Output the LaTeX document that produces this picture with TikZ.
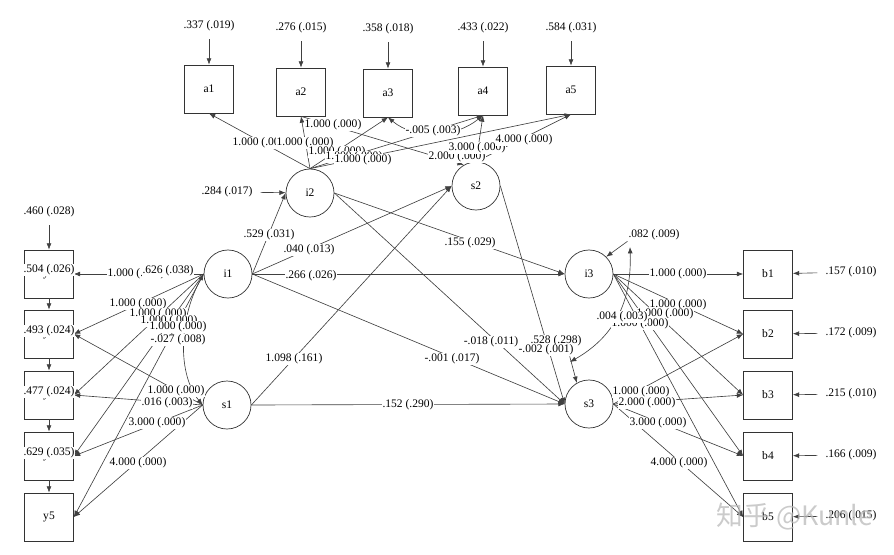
\documentclass[tikz,border=0pt]{standalone}
\usepackage{fontspec}
\setmainfont{Liberation Serif}
\newfontfamily\cjk{Noto Sans CJK SC}
\usetikzlibrary{arrows.meta}

\begin{document}
\begin{tikzpicture}[x=0.025cm, y=-0.025cm, >={Latex[length=4.5pt,width=3.5pt]},
  obs/.style={draw=black!80, line width=0.5pt, minimum width=1.225cm, minimum height=1.2cm, font=\fontsize{8.2}{9}\selectfont},
  lat/.style={draw=black!80, line width=0.5pt, circle, minimum size=1.2cm, inner sep=0pt, font=\fontsize{8.2}{9}\selectfont},
  lbl/.style={fill=white, inner sep=0.6pt, font=\fontsize{8.2}{9}\selectfont},
  conn/.style={->, draw=black!75, line width=0.45pt},
  cov/.style={<->, draw=black!75, line width=0.45pt},
  resarr/.style={->, draw=black!75, line width=0.45pt, shorten <=5pt}]
  \useasboundingbox (0,0) rectangle (894,554);

  % Indicadores
  \node[obs] (a1) at (209,89) {a1};
  \node[obs] (a2) at (301,92) {a2};
  \node[obs] (a3) at (388,93) {a3};
  \node[obs] (a4) at (483,91) {a4};
  \node[obs] (a5) at (571,90) {a5};
  \node[obs] (y1) at (49,274) {y1};
  \node[obs] (y2) at (49,334) {y2};
  \node[obs] (y3) at (49,395) {y3};
  \node[obs] (y4) at (49,456) {y4};
  \node[obs] (y5) at (49,517) {y5};
  \node[obs] (b1) at (768,274) {b1};
  \node[obs] (b2) at (768,334) {b2};
  \node[obs] (b3) at (768,395) {b3};
  \node[obs] (b4) at (768,456) {b4};
  \node[obs] (b5) at (768,517) {b5};

  % Fatores
  \node[lat] (i2) at (310,193) {i2};
  \node[lat] (s2) at (476,186) {s2};
  \node[lat] (i1) at (228,274) {i1};
  \node[lat] (s1) at (227,405) {s1};
  \node[lat] (i3) at (589,274) {i3};
  \node[lat] (s3) at (589,404) {s3};

  % Cargas de i2 e s2
  \draw[conn] (i2.north) -- (a1.south);
  \draw[conn] (i2.north) -- (a2.south);
  \draw[conn] (i2.north) -- (a3.south);
  \draw[conn] (i2.north) -- (a4.south);
  \draw[conn] (i2.north) -- (a5.south);
  \draw[conn] (a2.south) -- (s2.120);
  \draw[conn] (s2.north) -- (a4.south);
  \draw[conn] (s2.north) -- (a5.south);
  \draw[cov] (a3.south) .. controls (415,140) and (455,138) .. (a4.south);

  % Regressões
  \draw[conn] (i1.east) -- (i2.west);
  \draw[conn] (i1.east) -- (s2.west);
  \draw[conn] (i1.east) -- (i3.west);
  \draw[conn] (i1.east) -- (s3.west);
  \draw[conn] (s1.east) -- (s2.west);
  \draw[conn] (s1.east) -- (s3.west);
  \draw[conn] (i2.east) -- (i3.west);
  \draw[conn] (i2.east) -- (s3.west);
  \draw[conn] (s2.east) -- (s3.west);

  % Cargas de i1 e s1
  \draw[conn] (i1.west) -- (y1.east);
  \draw[conn] (i1.west) -- (y2.east);
  \draw[conn] (i1.west) -- (y3.east);
  \draw[conn] (i1.west) -- (y4.east);
  \draw[conn] (i1.west) -- (y5.east);
  \draw[conn] (s1.west) -- (y2.east);
  \draw[conn] (s1.west) -- (y3.east);
  \draw[conn] (s1.west) -- (y4.east);
  \draw[conn] (s1.west) -- (y5.east);
  \draw[cov] (i1.west) .. controls (178,320) and (178,375) .. (s1.west);
  \draw[conn] (y1) -- (y2);
  \draw[conn] (y2) -- (y3);
  \draw[conn] (y3) -- (y4);
  \draw[conn] (y4) -- (y5);

  % Cargas de i3 e s3
  \draw[conn] (i3.east) -- (b1.west);
  \draw[conn] (i3.east) -- (b2.west);
  \draw[conn] (i3.east) -- (b3.west);
  \draw[conn] (i3.east) -- (b4.west);
  \draw[conn] (i3.east) -- (b5.west);
  \draw[conn] (s3.east) -- (b2.west);
  \draw[conn] (s3.east) -- (b3.west);
  \draw[conn] (s3.east) -- (b4.west);
  \draw[conn] (s3.east) -- (b5.west);
  \coordinate (e3) at (630,247);
  \coordinate (e4) at (570,362);
  \draw[cov] (e3) .. controls (632,305) and (612,338) .. (e4);

  % Resíduos
  \node[lbl] (ra1) at (209,26) {.337 (.019)};
  \node[lbl] (ra2) at (301,28) {.276 (.015)};
  \node[lbl] (ra3) at (388,29) {.358 (.018)};
  \node[lbl] (ra4) at (483,28) {.433 (.022)};
  \node[lbl] (ra5) at (571,28) {.584 (.031)};
  \draw[resarr] (ra1) -- (a1);
  \draw[resarr] (ra2) -- (a2);
  \draw[resarr] (ra3) -- (a3);
  \draw[resarr] (ra4) -- (a4);
  \draw[resarr] (ra5) -- (a5);
  \node[lbl] (ry0) at (49,212) {.460 (.028)};
  \draw[resarr] (ry0) -- (y1);
  \node[lbl] (rb1) at (851,272) {.157 (.010)};
  \node[lbl] (rb2) at (851,333) {.172 (.009)};
  \node[lbl] (rb3) at (851,394) {.215 (.010)};
  \node[lbl] (rb4) at (851,455) {.166 (.009)};
  \node[lbl] (rb5) at (851,516) {.206 (.015)};
  \draw[resarr] (rb1) -- (b1);
  \draw[resarr] (rb2) -- (b2);
  \draw[resarr] (rb3) -- (b3);
  \draw[resarr] (rb4) -- (b4);
  \draw[resarr] (rb5) -- (b5);
  \node[lbl] (ri2) at (227,192) {.284 (.017)};
  \draw[resarr] (ri2) -- (i2);
  \node[lbl] (ri3) at (654,235) {.082 (.009)};
  \draw[resarr, shorten <=0pt] (ri3.south west) -- (i3.north east);

  % Rótulos, lado esquerdo
  \node[lbl] (ly1) at (49,270) {.504 (.026)};
  \node[lbl] (ly2) at (49,331) {.493 (.024)};
  \node[lbl] (ly3) at (49,392) {.477 (.024)};
  \node[lbl] (ly4) at (49,453) {.629 (.035)};
  \node[lbl] (l1) at (136,274) {1.000 (.000)};
  \node[lbl] (ri1) at (168,271) {.626 (.038)};
  \node[lbl] (l2) at (138,304) {1.000 (.000)};
  \node[lbl] (l3) at (158,314) {1.000 (.000)};
  \node[lbl] (l4) at (169,321) {1.000 (.000)};
  \node[lbl] (l5) at (178,327) {1.000 (.000)};
  \node[lbl] (l6) at (178,340) {-.027 (.008)};
  \node[lbl] (l7) at (176,391) {1.000 (.000)};
  \node[lbl] (l8) at (167,403) {.016 (.003)};
  \node[lbl] (l9) at (157,423) {3.000 (.000)};
  \node[lbl] (l10) at (138,463) {4.000 (.000)};

  % Rótulos, topo
  \node[lbl] (t1) at (333,125) {1.000 (.000)};
  \node[lbl] (t2) at (261,143) {1.000 (.000)};
  \node[lbl] (t3) at (305,143) {1.000 (.000)};
  \node[lbl] (t4) at (337,152) {1.000 (.000)};
  \node[lbl] (t5) at (354,157) {1.000 (.000)};
  \node[lbl] (t6) at (363,160) {1.000 (.000)};
  \node[lbl] (t7) at (433,131) {-.005 (.003)};
  \node[lbl] (t8) at (457,157) {2.000 (.000)};
  \node[lbl] (t9) at (477,148) {3.000 (.000)};
  \node[lbl] (t10) at (524,140) {4.000 (.000)};

  % Rótulos, centro
  \node[lbl] (m1) at (269,235) {.529 (.031)};
  \node[lbl] (m2) at (309,250) {.040 (.013)};
  \node[lbl] (m3) at (311,276) {.266 (.026)};
  \node[lbl] (m4) at (294,359) {1.098 (.161)};
  \node[lbl] (m5) at (470,243) {.155 (.029)};
  \node[lbl] (m6) at (452,359) {-.001 (.017)};
  \node[lbl] (m7) at (408,405) {.152 (.290)};
  \node[lbl] (m8) at (491,342) {-.018 (.011)};
  \node[lbl] (m9) at (556,341) {.528 (.298)};
  \node[lbl] (rs3) at (546,350) {-.002 (.001)};
  \draw[resarr, shorten <=0pt] (rs3.-15) -- (s3.120);

  % Rótulos, lado direito
  \node[lbl] (r1) at (678,274) {1.000 (.000)};
  \node[lbl] (r2) at (678,305) {1.000 (.000)};
  \node[lbl] (r3) at (665,314) {1.000 (.000)};
  \node[lbl] (r4) at (640,324) {1.000 (.000)};
  \node[lbl] (r5) at (622,317) {.004 (.003)};
  \node[lbl] (r6) at (641,392) {1.000 (.000)};
  \node[lbl] (r7) at (647,403) {2.000 (.000)};
  \node[lbl] (r8) at (658,423) {3.000 (.000)};
  \node[lbl] (r9) at (679,463) {4.000 (.000)};

  % Marca d'água
  \node[text=gray!55, opacity=0.75, font=\cjk\fontsize{19}{20}\selectfont] (wm) at (795,517) {知乎 @Kunle};
\end{tikzpicture}
\end{document}
